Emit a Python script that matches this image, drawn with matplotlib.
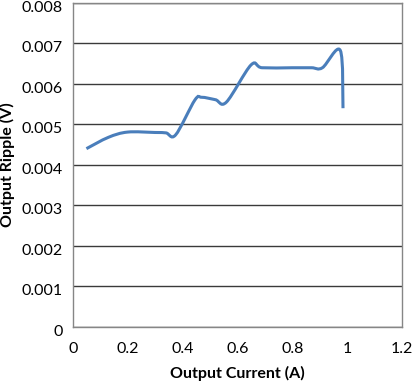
import numpy as np
import matplotlib.pyplot as plt
import matplotlib.transforms as mtransforms
from matplotlib.path import Path
from matplotlib.patches import PathPatch

# values
current = [0.05, 0.13, 0.2, 0.3, 0.34, 0.375, 0.445, 0.47, 0.52, 0.56, 0.65, 0.69, 0.8, 0.87,
           0.91, 0.975, 0.985]
ripple = [0.0044, 0.00468, 0.00481, 0.0048, 0.00479, 0.00474, 0.0056, 0.00567, 0.00561,
          0.00555, 0.00647, 0.0064, 0.0064, 0.0064, 0.0064, 0.00683, 0.0054]
xticks = [0, 0.2, 0.4, 0.6, 0.8, 1, 1.2]
xticklabels = ['0', '0.2', '0.4', '0.6', '0.8', '1', '1.2']
yticks = [0, 0.001, 0.002, 0.003, 0.004, 0.005, 0.006, 0.007, 0.008]
yticklabels = ['0', '0.001', '0.002', '0.003', '0.004', '0.005', '0.006', '0.007', '0.008']

plt.rcParams['font.family'] = ['Lato', 'DejaVu Sans']
fsz = 11.5

fig = plt.figure(figsize=(4.13, 3.83), dpi=100)
ax = fig.add_axes([72.7 / 413, (383 - 326.7) / 383, (402 - 72.7) / 413, (326.7 - 3) / 383])


def smooth_path(xs, ys, t=1 / 6):
    # Excel-style smoothed line: Catmull-Rom segments as cubic Beziers
    p = np.column_stack([xs, ys])
    verts = [p[0]]
    codes = [Path.MOVETO]
    n = len(p)
    for i in range(n - 1):
        p0 = p[i - 1] if i > 0 else p[i]
        p3 = p[i + 2] if i + 2 < n else p[i + 1]
        c1 = p[i] + (p[i + 1] - p0) * t
        c2 = p[i + 1] - (p3 - p[i]) * t
        verts += [c1, c2, p[i + 1]]
        codes += [Path.CURVE4] * 3
    return Path(verts, codes)


ax.add_patch(PathPatch(smooth_path(current, ripple), fill=False, edgecolor='#4a7ebb',
                       linewidth=2.2, capstyle='butt', zorder=3))

ax.set_xlim(0, 1.2)
ax.set_ylim(0, 0.008)
ax.set_xticks(xticks)
ax.set_xticklabels(xticklabels, fontsize=fsz)
ax.set_yticks(yticks)
ax.set_yticklabels(yticklabels, fontsize=fsz)
ax.tick_params(axis='x', length=0, pad=11)
ax.tick_params(axis='y', length=0, pad=7)
# excel puts the value labels a few pixels under the gridline
shift = mtransforms.ScaledTranslation(0, -2.5 / 72, fig.dpi_scale_trans)
for lab in ax.get_yticklabels():
    lab.set_transform(lab.get_transform() + shift)
ax.yaxis.grid(True, color='#3a3a3a', linewidth=1)
ax.set_axisbelow(True)
for s in ax.spines.values():
    s.set_color('#868686')
    s.set_linewidth(1)

ax.set_xlabel('Output Current (A)', fontsize=fsz, fontweight='bold', labelpad=7)
ax.set_ylabel('Output Ripple (V)', fontsize=fsz, fontweight='bold', labelpad=5)

fig.savefig('out.png', dpi=100)
